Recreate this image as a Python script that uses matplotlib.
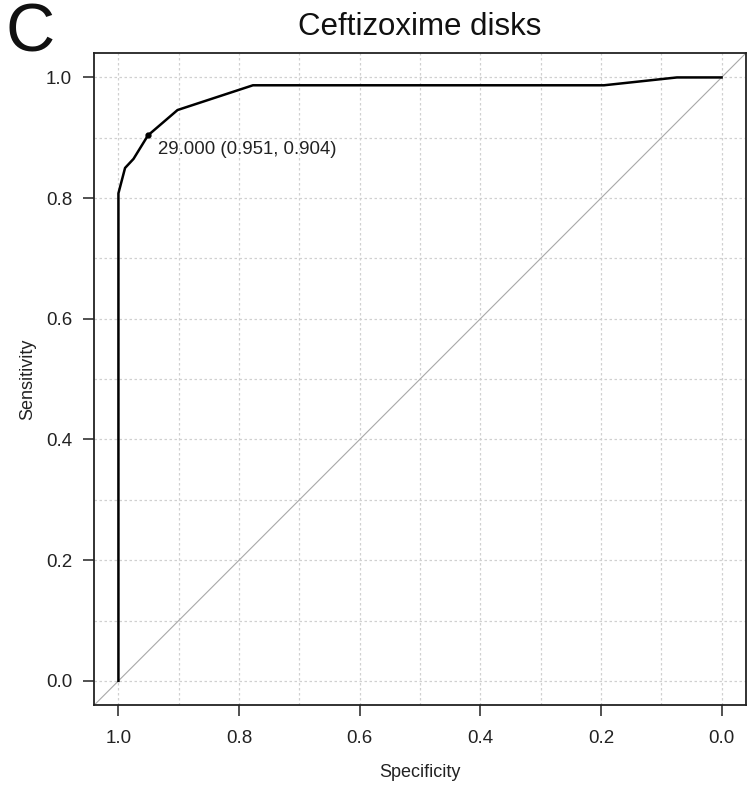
import numpy as np
import matplotlib
matplotlib.use("Agg")
import matplotlib.pyplot as plt

plt.rcParams['font.family'] = ['Liberation Sans', 'DejaVu Sans']

# ROC curve points
specificity = [1.0, 1.0, 0.989, 0.975, 0.951, 0.902, 0.777, 0.195, 0.074, 0.0]
sensitivity = [0.0, 0.808, 0.850, 0.865, 0.904, 0.946, 0.987, 0.987, 1.0, 1.0]
best_thr = 29.000
best_spec = 0.951
best_sens = 0.904
ticks = [0.0, 0.2, 0.4, 0.6, 0.8, 1.0]
grid_pos = np.arange(0, 11) / 10

fig = plt.figure(figsize=(7.47, 7.91), dpi=100)
ax = fig.add_axes([94.3 / 747, 86 / 791, 651.4 / 747, 651.7 / 791])

ax.set_xlim(1.04, -0.04)
ax.set_ylim(-0.04, 1.04)

for g in grid_pos:
    ax.axvline(g, color='#d0d0d0', lw=0.9, ls=(0, (2, 2)), zorder=0)
    ax.axhline(g, color='#d0d0d0', lw=0.9, ls=(0, (2, 2)), zorder=0)

ax.axline((1, 0), (0, 1), color='#a8a8a8', lw=0.8, zorder=1)
ax.plot(specificity, sensitivity, color='black', lw=1.8, zorder=3)
ax.plot([best_spec], [best_sens], 'o', color='black', ms=3.5, zorder=4)
ax.annotate('%.3f (%.3f, %.3f)' % (best_thr, best_spec, best_sens),
            xy=(best_spec, best_sens), xytext=(7, -10),
            textcoords='offset points', ha='left', va='center',
            fontsize=13.4, color='#222222')

ax.set_xticks(ticks)
ax.set_yticks(ticks)
ax.set_xticklabels(['%.1f' % t for t in ticks])
ax.set_yticklabels(['%.1f' % t for t in ticks])
ax.tick_params(axis='both', length=8, width=1.2, color='#333333',
               labelsize=13.5, labelcolor='#222222')
ax.tick_params(axis='x', pad=10)
ax.tick_params(axis='y', pad=8)
for s in ax.spines.values():
    s.set_color('#222222')
    s.set_linewidth(1.3)

ax.set_xlabel('Specificity', fontsize=13, color='#222222', va='center')
ax.set_ylabel('Sensitivity', fontsize=13, color='#222222', va='center')
ax.xaxis.set_label_coords(0.5, -0.104)
ax.yaxis.set_label_coords(-0.103, 0.5)

ax.set_title('Ceftizoxime disks', fontsize=22.5, pad=13, color='#111111')
fig.text(5.5 / 747, 1 - 33.5 / 791, 'C', fontsize=49, ha='left', va='center',
         color='#111111')

fig.savefig('out.png', dpi=100)
